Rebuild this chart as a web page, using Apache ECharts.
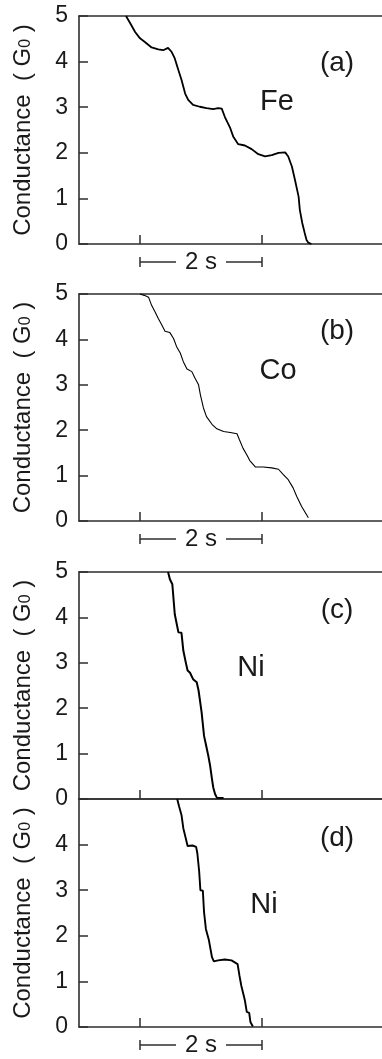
<!DOCTYPE html>
<html>
<head>
<meta charset="utf-8">
<script src="https://cdn.jsdelivr.net/npm/echarts@6/dist/echarts.min.js"></script>
<style>
html,body{margin:0;padding:0;background:#fff;}
#chart{width:382px;height:1059px;}
</style>
</head>
<body>
<div id="chart"></div>
<script>
// ---- data (time in s, conductance in G0) ----
const feTime = [0.77,0.84,0.92,1.00,1.08,1.19,1.30,1.38,1.46,1.52,1.57,1.63,1.68,1.74,1.79,1.87,1.98,2.09,2.20,2.28,2.34,2.39,2.48,2.53,2.61,2.72,2.83,2.94,3.05,3.16,3.27,3.38,3.43,3.49,3.54,3.60,3.62,3.66,3.70,3.73,3.76,3.81];
const feG    = [5.00,4.84,4.65,4.51,4.43,4.31,4.27,4.25,4.30,4.21,4.07,3.81,3.60,3.30,3.16,3.05,3.01,2.98,2.96,2.98,2.97,2.79,2.54,2.35,2.19,2.16,2.08,1.97,1.92,1.95,2.00,2.01,1.92,1.70,1.41,1.04,0.75,0.46,0.24,0.09,0.03,0.00];
const coTime = [1.00,1.07,1.14,1.19,1.25,1.30,1.36,1.41,1.49,1.55,1.60,1.66,1.71,1.77,1.85,1.90,1.96,1.99,2.04,2.09,2.18,2.26,2.37,2.48,2.59,2.63,2.69,2.75,2.80,2.89,3.02,3.16,3.27,3.35,3.43,3.51,3.57,3.65,3.76];
const coG    = [5.00,4.97,4.93,4.75,4.60,4.46,4.31,4.18,4.15,4.02,3.84,3.70,3.51,3.35,3.29,3.15,3.00,2.78,2.49,2.30,2.13,2.03,1.97,1.95,1.92,1.79,1.60,1.46,1.33,1.19,1.19,1.17,1.14,1.02,0.91,0.73,0.54,0.32,0.07];
const ni1Time = [1.46,1.49,1.53,1.55,1.57,1.60,1.63,1.68,1.71,1.75,1.78,1.82,1.87,1.93,1.96,1.98,2.01,2.03,2.05,2.09,2.12,2.15,2.18,2.20,2.23,2.26,2.37];
const ni1G    = [5.00,4.84,4.73,4.40,4.07,4.04,3.67,3.66,3.27,3.01,2.83,2.78,2.64,2.57,2.39,2.20,1.91,1.89,1.39,1.14,0.95,0.73,0.44,0.26,0.11,0.03,0.02];
const ni2Time = [1.61,1.64,1.67,1.68,1.71,1.75,1.78,1.81,1.86,1.92,1.94,1.97,1.99,2.03,2.05,2.08,2.10,2.13,2.15,2.18,2.21,2.28,2.39,2.50,2.60,2.63,2.66,2.69,2.72,2.75,2.79,2.81,2.85];
const ni2G    = [5.00,4.84,4.83,4.65,4.36,4.14,3.97,4.00,3.98,3.95,3.81,3.41,3.00,2.99,2.52,2.15,2.14,1.90,1.89,1.53,1.44,1.46,1.48,1.46,1.38,1.13,0.91,0.89,0.58,0.33,0.31,0.11,0.01];

const panelTags = ['(a)','(b)','(c)','(d)'];
const metals = ['Fe','Co','Ni','Ni'];
const yTicks = [0,1,2,3,4,5];
const scaleBarTicks = [1,3];      // 2 s scale bar spans these times
const scaleBarText = '2 s';
const showScaleBar = [true,true,false,true];

const seriesSets = [[feTime,feG],[coTime,coG],[ni1Time,ni1G],[ni2Time,ni2G]];
const lineWidths = [1.8,1.1,2.0,1.9];

// ---- layout ----
const PX_PER_S = 61;
const GRID_LEFT = 79;
const GRID_W = 382 - GRID_LEFT;          // panels run to the right edge of the figure
const X_MAX = GRID_W / PX_PER_S;
const grids = [
  {top:16,  height:228},
  {top:294, height:227},
  {top:572, height:227},
  {top:799, height:228}
].map(g => Object.assign(g, {left:GRID_LEFT, width:GRID_W}));
const axisColor = '#2e2e2e';
const textColor = '#1a1a1a';
const fontFam = 'Liberation Sans, Arial, sans-serif';
const axLine = {show:true, lineStyle:{color:axisColor, width:1.6}};

const xAxes = [];
grids.forEach((g,i) => {
  xAxes.push({
    type:'value', gridIndex:i, min:0, max:X_MAX, position:'bottom',
    axisLine:axLine,
    axisTick:{show:true, inside:true, length:9, customValues:scaleBarTicks, lineStyle:{color:axisColor, width:1.5}},
    axisLabel:{show:false},
    splitLine:{show:false}
  });
  xAxes.push({
    type:'value', gridIndex:i, min:0, max:X_MAX, position:'top',
    axisLine:axLine, axisTick:{show:false}, axisLabel:{show:false}, splitLine:{show:false}
  });
});

const option = {
  animation:false,
  backgroundColor:'#fff',
  grid: grids,
  xAxis: xAxes,
  yAxis: grids.map((g,i) => ({
    type:'value', gridIndex:i, min:0, max:5, interval:1,
    axisLine:axLine,
    axisTick:{show:true, inside:true, length:9, lineStyle:{color:axisColor, width:1.5}},
    axisLabel:{
      show:true, margin:11, color:textColor, fontSize:23, fontFamily:fontFam,
      formatter: v => (i===3 && v===5) ? '' : String(v)
    },
    splitLine:{show:false},
    name:'Conductance  ( G{s|0} )',
    nameLocation:'middle', nameRotate:90, nameGap:44,
    nameTextStyle:{
      color:textColor, fontSize:24, fontFamily:fontFam,
      rich:{s:{fontSize:16, color:textColor, fontFamily:fontFam, padding:[6,0,0,0]}}
    }
  })),
  series: seriesSets.map((s,i) => ({
    type:'line', xAxisIndex:2*i, yAxisIndex:i,
    data: s[0].map((t,k) => [t, s[1][k]]),
    showSymbol:false, smooth:false,
    lineStyle:{color:'#000', width:lineWidths[i]},
    clip:false
  }))
};

const chart = echarts.init(document.getElementById('chart'), null, {renderer:'canvas'});
chart.setOption(option);

// ---- annotations (panel tags, metal names, scale bars) ----
const tagPos = [[337,63],[337,331],[337,610],[337,838]];
const metalPos = [[277,102],[278,371],[251,668],[264,905]];
const graphics = [];
for (let i=0;i<4;i++){
  graphics.push({type:'text', x:tagPos[i][0], y:tagPos[i][1],
    style:{text:panelTags[i], fill:textColor, font:'28px '+fontFam, align:'center', verticalAlign:'middle'}});
  graphics.push({type:'text', x:metalPos[i][0], y:metalPos[i][1],
    style:{text:metals[i], fill:textColor, font:'29px '+fontFam, align:'center', verticalAlign:'middle'}});
  if (showScaleBar[i]){
    const p1 = chart.convertToPixel({xAxisIndex:2*i, yAxisIndex:i}, [scaleBarTicks[0], 0]);
    const p2 = chart.convertToPixel({xAxisIndex:2*i, yAxisIndex:i}, [scaleBarTicks[1], 0]);
    const y = p1[1] + 18;
    const mid = (p1[0]+p2[0])/2;
    const gap = 25;
    const ls = {stroke:axisColor, lineWidth:1.5};
    graphics.push({type:'line', shape:{x1:p1[0], y1:y, x2:mid-gap, y2:y}, style:ls});
    graphics.push({type:'line', shape:{x1:mid+gap, y1:y, x2:p2[0], y2:y}, style:ls});
    graphics.push({type:'line', shape:{x1:p1[0], y1:y-5, x2:p1[0], y2:y+5}, style:ls});
    graphics.push({type:'line', shape:{x1:p2[0], y1:y-5, x2:p2[0], y2:y+5}, style:ls});
    graphics.push({type:'text', x:mid, y:y, style:{text:scaleBarText, fill:textColor, font:'24px '+fontFam, align:'center', verticalAlign:'middle'}});
  }
}
chart.setOption({graphic:graphics});
</script>
</body>
</html>
